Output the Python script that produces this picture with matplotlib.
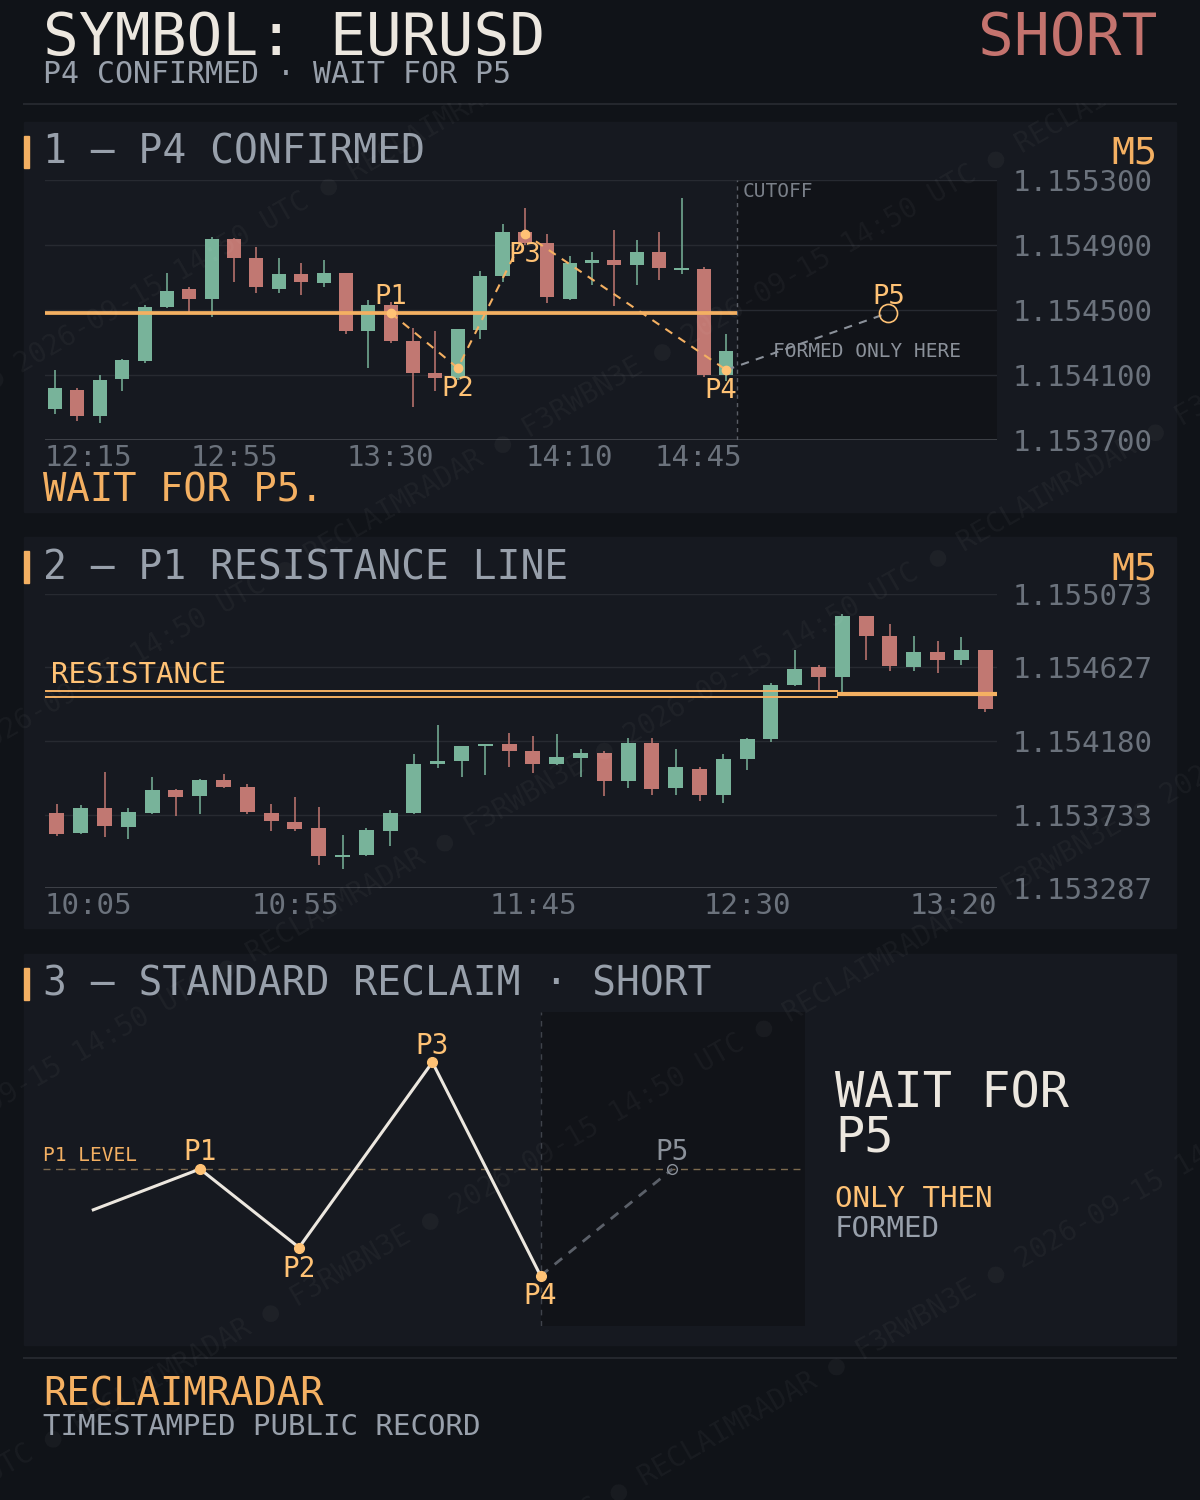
import matplotlib
matplotlib.use("Agg")
import matplotlib.pyplot as plt
from matplotlib.patches import Rectangle
from matplotlib import transforms
import numpy as np

plt.rcParams["font.family"] = ["DejaVu Sans Mono", "DejaVu Sans"]

W, H = 1200, 1500

# colours
BG = "#101318"
PANEL = "#161920"
FUTURE = "#111318"
GRID = "#272a31"
AXIS = "#45484f"
TXT = "#ece7df"
MUTED = "#98a0ab"
TICK = "#6b727c"
ORANGE = "#f4b062"
LABEL = "#ffc275"
GREEN = "#78b39a"
RED = "#c17872"
SHORT_RED = "#c4736e"
GHOST = "#8b919a"

# header
symbol = "EURUSD"
side = "SHORT"
status = "P4 CONFIRMED · WAIT FOR P5"
timeframe = "M5"

# panel 1 - M5 candles 12:15 .. 14:45
p1_open = [1.153893, 1.154008, 1.153850, 1.154077, 1.154188, 1.154520, 1.154629, 1.154570,
           1.154937, 1.154820, 1.154631, 1.154722, 1.154668, 1.154728, 1.154373, 1.154531,
           1.154309, 1.154112, 1.154083, 1.154379, 1.154711, 1.154980, 1.154912, 1.154570,
           1.154789, 1.154808, 1.154777, 1.154857, 1.154748, 1.154752, 1.154100]
p1_high = [1.154131, 1.154018, 1.154100, 1.154198, 1.154531, 1.154728, 1.154642, 1.154949,
           1.154940, 1.154888, 1.154820, 1.154789, 1.154808, 1.154730, 1.154562, 1.154549,
           1.154389, 1.154371, 1.154383, 1.154740, 1.155029, 1.155128, 1.154968, 1.154832,
           1.154857, 1.154992, 1.154931, 1.154980, 1.155189, 1.154766, 1.154352]
p1_low = [1.153858, 1.153819, 1.153806, 1.154003, 1.154176, 1.154514, 1.154483, 1.154459,
          1.154674, 1.154606, 1.154606, 1.154594, 1.154643, 1.154354, 1.154145, 1.154299,
          1.153905, 1.154003, 1.154069, 1.154323, 1.154674, 1.154900, 1.154545, 1.154562,
          1.154654, 1.154525, 1.154654, 1.154685, 1.154722, 1.154088, 1.154063]
p1_close = [1.154020, 1.153850, 1.154069, 1.154192, 1.154518, 1.154617, 1.154570, 1.154937,
            1.154822, 1.154643, 1.154722, 1.154674, 1.154728, 1.154373, 1.154531, 1.154311,
            1.154114, 1.154083, 1.154383, 1.154709, 1.154980, 1.154914, 1.154582, 1.154789,
            1.154808, 1.154777, 1.154857, 1.154758, 1.154758, 1.154100, 1.154248]
p1_yticks = [1.1537, 1.1541, 1.1545, 1.1549, 1.1553]
p1_time_labels = ["12:15", "12:55", "13:30", "14:10", "14:45"]
p1_time_index = [0, 8, 15, 23, 30]
p1_level = 1.154482
pattern_names = ["P1", "P2", "P3", "P4"]
pattern_index = [15, 18, 21, 30]
pattern_price = [1.154482, 1.154143, 1.154968, 1.154131]
p5_index = 37.24

# panel 2 - M5 candles 10:05 .. 13:20
p2_open = [1.153743, 1.153623, 1.153773, 1.153659, 1.153743, 1.153882, 1.153848, 1.153943,
           1.153901, 1.153743, 1.153688, 1.153651, 1.153477, 1.153489, 1.153635, 1.153744,
           1.154042, 1.154060, 1.154151, 1.154162, 1.154119, 1.154042, 1.154079, 1.154107,
           1.153939, 1.154168, 1.153896, 1.154010, 1.153854, 1.154072, 1.154194, 1.154522,
           1.154630, 1.154571, 1.154939, 1.154818, 1.154631, 1.154721, 1.154674, 1.154733]
p2_high = [1.153797, 1.153791, 1.153992, 1.153773, 1.153961, 1.153888, 1.153949, 1.153980,
           1.153919, 1.153797, 1.153840, 1.153779, 1.153609, 1.153651, 1.153761, 1.154101,
           1.154277, 1.154150, 1.154162, 1.154229, 1.154210, 1.154223, 1.154131, 1.154119,
           1.154198, 1.154198, 1.154131, 1.154022, 1.154101, 1.154198, 1.154532, 1.154733,
           1.154642, 1.154952, 1.154940, 1.154891, 1.154818, 1.154788, 1.154812, 1.154735]
p2_low = [1.153605, 1.153617, 1.153599, 1.153586, 1.153736, 1.153726, 1.153738, 1.153896,
          1.153738, 1.153635, 1.153635, 1.153429, 1.153404, 1.153483, 1.153544, 1.153738,
          1.154018, 1.153963, 1.153975, 1.154024, 1.153987, 1.154036, 1.153963, 1.153848,
          1.153896, 1.153854, 1.153854, 1.153817, 1.153805, 1.154006, 1.154176, 1.154516,
          1.154486, 1.154467, 1.154674, 1.154607, 1.154607, 1.154595, 1.154644, 1.154358]
p2_close = [1.153617, 1.153773, 1.153665, 1.153749, 1.153882, 1.153842, 1.153943, 1.153902,
            1.153750, 1.153696, 1.153647, 1.153483, 1.153487, 1.153639, 1.153743, 1.154040,
            1.154059, 1.154150, 1.154162, 1.154121, 1.154042, 1.154083, 1.154107, 1.153939,
            1.154168, 1.153890, 1.154022, 1.153854, 1.154071, 1.154192, 1.154520, 1.154617,
            1.154571, 1.154939, 1.154820, 1.154637, 1.154721, 1.154674, 1.154733, 1.154376]
p2_yticks = [1.153287, 1.1537335, 1.15418, 1.1546265, 1.155073]
p2_ytick_labels = ["1.153287", "1.153733", "1.154180", "1.154627", "1.155073"]
p2_time_labels = ["10:05", "10:55", "11:45", "12:30", "13:20"]
p2_time_index = [0, 10, 20, 29, 39]
resistance = 1.154466
resistance_touch = 32.78

# panel 3 - schematic of the standard reclaim
sketch_x = [0.066, 0.206, 0.336, 0.511, 0.653]
sketch_y = [0.37, 0.50, 0.25, 0.84, 0.16]
sketch_names = ["", "P1", "P2", "P3", "P4"]
sketch_p5 = (0.826, 0.50)
sketch_level = 0.50

wm_cycle = "RECLAIMRADAR ● F3RWBN3E ● 2026-09-15 14:50 UTC ● "


def px_box(x0, y0, x1, y1):
    return [x0 / W, 1 - y1 / H, (x1 - x0) / W, (y1 - y0) / H]


def chart_axes(box, xlim, ylim):
    ax = fig.add_axes(px_box(*box), zorder=2)
    ax.set_facecolor("none")
    ax.set_xlim(*xlim)
    ax.set_ylim(*ylim)
    for s in ax.spines.values():
        s.set_visible(False)
    return ax


def price_grid(ax, ticks, labels):
    for t in ticks[1:]:
        ax.axhline(t, color=GRID, lw=1, zorder=0.5)
    ax.axhline(ticks[0], color=AXIS, lw=1.2, zorder=0.5)
    ax.set_xticks([])
    ax.yaxis.tick_right()
    ax.set_yticks(ticks)
    ax.set_yticklabels(labels)
    ax.tick_params(axis="y", length=0, pad=11, labelsize=21, labelcolor=TICK)


def time_labels(ax, idx, labels, right_edge):
    tr = transforms.offset_copy(ax.get_xaxis_transform(), fig=fig, y=-26, units="dots")
    for k, (i, lab) in enumerate(zip(idx, labels)):
        x, ha = i, "center"
        if k == 0:
            x, ha = ax.get_xlim()[0], "left"
        elif k == len(idx) - 1:
            x, ha = right_edge, "right"
        ax.text(x, 0, lab, transform=tr, ha=ha, va="baseline", color=TICK, fontsize=21)


def draw_candles(ax, o, h, l, c, width=0.63):
    o, h, l, c = map(np.asarray, (o, h, l, c))
    x = np.arange(len(o))
    colors = np.where(c >= o, GREEN, RED)
    ax.vlines(x, l, h, colors=colors, lw=1.1, zorder=3)
    height = np.maximum(np.abs(c - o), 1.1e-5)
    ax.bar(x, height, width, np.minimum(o, c), color=colors, lw=0, zorder=4)


fig = plt.figure(figsize=(W / 100, H / 100), dpi=100, facecolor=BG)
bg = fig.add_axes([0, 0, 1, 1], zorder=0)
bg.set_xlim(0, W)
bg.set_ylim(H, 0)
bg.axis("off")

# header sits above the watermark layer so it stays clean
hdr = fig.add_axes(px_box(0, 0, W, 103), zorder=30)
hdr.set_facecolor(BG)
hdr.set_xlim(0, W)
hdr.set_ylim(103, 0)
hdr.set_xticks([])
hdr.set_yticks([])
for s in hdr.spines.values():
    s.set_visible(False)
hdr.text(43, 55, f"SYMBOL: {symbol}", color=TXT, fontsize=42.8, va="baseline")
hdr.text(1157, 55, side, color=SHORT_RED, fontsize=42.8, va="baseline", ha="right")
hdr.text(43, 83, status, color=MUTED, fontsize=21.5, va="baseline")
bg.plot([24, 1176], [104, 104], color="#24272d", lw=1.5)

# panel frames and titles
panels = [
    (122, 512, "1 — P4 CONFIRMED", True),
    (537, 928, "2 — P1 RESISTANCE LINE", True),
    (954, 1345, "3 — STANDARD RECLAIM · SHORT", False),
]
for top, bottom, title, show_tf in panels:
    bg.add_patch(Rectangle((24, top), 1152, bottom - top, color=PANEL, zorder=0))
    bg.add_patch(Rectangle((24, top + 14), 5, 32, color=ORANGE, zorder=1))
    bg.text(43, top + 42, title, color=MUTED, fontsize=28.5, va="baseline")
    if show_tf:
        bg.text(1157, top + 42, timeframe, color=ORANGE, fontsize=27.5, va="baseline", ha="right")

# ---- panel 1
ax1 = chart_axes((45, 180, 997, 440), (-0.45, 42.1), (p1_yticks[0], p1_yticks[-1]))
cutoff = len(p1_open) - 0.5
ax1.axvspan(cutoff, ax1.get_xlim()[1], color=FUTURE, lw=0, zorder=0)
price_grid(ax1, p1_yticks, [f"{t:.6f}" for t in p1_yticks])
ax1.axvline(cutoff, color="#5a5e66", lw=1, ls=(0, (3, 3)), zorder=1)
draw_candles(ax1, p1_open, p1_high, p1_low, p1_close)
ax1.plot([ax1.get_xlim()[0], cutoff], [p1_level, p1_level], color=ORANGE, lw=2.7,
         solid_capstyle="butt", zorder=5)
ax1.plot(pattern_index, pattern_price, color=ORANGE, lw=1.5, ls=(0, (4, 3.5)), zorder=6)
ax1.plot(pattern_index, pattern_price, "o", ms=6, color=LABEL, zorder=7)
ax1.plot([pattern_index[-1], p5_index], [pattern_price[-1], p1_level], color=GHOST, lw=1.5,
         ls=(0, (4, 3.5)), zorder=6)
ax1.plot(p5_index, p1_level, "o", ms=13, mfc="none", mec=LABEL, mew=1.2, zorder=7)
offsets = {"P1": (0, 6.5), "P2": (0, -20.5), "P3": (0, -20), "P4": (-4, -20)}
for name, xi, yi in zip(pattern_names, pattern_index, pattern_price):
    ax1.annotate(name, (xi, yi), xytext=offsets[name], textcoords="offset points",
                 ha="center", va="baseline", color=LABEL, fontsize=19.5, zorder=8)
ax1.annotate("P5", (p5_index, p1_level), xytext=(0, 6.5), textcoords="offset points",
             ha="center", va="baseline", color=LABEL, fontsize=19.5, zorder=8)
ax1.annotate("CUTOFF", (cutoff, p1_yticks[-1]), xytext=(4, -12.2), textcoords="offset points",
             va="baseline", color="#7a8089", fontsize=14)
ax1.annotate("FORMED ONLY HERE", ((cutoff + ax1.get_xlim()[1]) / 2, p1_level), xytext=(0, -31.7),
             textcoords="offset points", ha="center", va="baseline", color=GHOST, fontsize=14)
time_labels(ax1, p1_time_index, p1_time_labels, cutoff + 0.2)
bg.text(43, 502, "WAIT FOR P5.", color=ORANGE, fontsize=28, va="baseline")

# ---- panel 2
ax2 = chart_axes((45, 594, 997, 888), (-0.5, 39.5), (p2_yticks[0], p2_yticks[-1]))
price_grid(ax2, p2_yticks, p2_ytick_labels)
draw_candles(ax2, p2_open, p2_high, p2_low, p2_close)
x0, x1 = ax2.get_xlim()
for dy in (-2.8, 2.8):
    tr = transforms.offset_copy(ax2.transData, fig=fig, y=dy, units="dots")
    ax2.plot([x0 + 0.03, resistance_touch], [resistance, resistance], transform=tr,
             color=ORANGE, lw=1.4, zorder=5)
ax2.plot([resistance_touch, x1], [resistance, resistance], color=ORANGE, lw=3,
         solid_capstyle="butt", zorder=5)
ax2.annotate("RESISTANCE", (x0, resistance), xytext=(4.3, 8), textcoords="offset points",
             va="baseline", color=LABEL, fontsize=21, zorder=6)
time_labels(ax2, p2_time_index, p2_time_labels, x1)

# ---- panel 3
ax3 = chart_axes((43, 1012, 805, 1326), (0, 1), (0, 1))
ax3.set_xticks([])
ax3.set_yticks([])
ax3.axvspan(sketch_x[-1], 1, color=FUTURE, lw=0, zorder=0)
ax3.axhline(sketch_level, color="#7d6a4e", lw=1, ls=(0, (5, 4)), zorder=1)
ax3.axvline(sketch_x[-1], color="#3f434b", lw=1, ls=(0, (4, 4)), zorder=1)
ax3.plot(sketch_x, sketch_y, color=TXT, lw=2.2, zorder=4)
ax3.plot(sketch_x[1:], sketch_y[1:], "o", ms=7, color=LABEL, zorder=5)
ax3.plot([sketch_x[-1], sketch_p5[0]], [sketch_y[-1], sketch_p5[1]], color="#5b6069", lw=2,
         ls=(0, (3.5, 3)), zorder=3)
ax3.plot(*sketch_p5, "o", ms=7, mfc="none", mec=GHOST, mew=1, zorder=5)
sketch_off = {"P1": 6.2, "P2": -21, "P3": 6.2, "P4": -20}
for name, xi, yi in zip(sketch_names[1:], sketch_x[1:], sketch_y[1:]):
    ax3.annotate(name, (xi, yi), xytext=(0, sketch_off[name]), textcoords="offset points",
                 ha="center", va="baseline", color=LABEL, fontsize=20, zorder=6)
ax3.annotate("P5", sketch_p5, xytext=(0, 6.2), textcoords="offset points",
             ha="center", va="baseline", color=GHOST, fontsize=20, zorder=6)
ax3.annotate("P1 LEVEL", (0, sketch_level), xytext=(0, 6), textcoords="offset points",
             va="baseline", color=ORANGE, fontsize=14, zorder=6)

bg.text(835, 1107, "WAIT FOR", color=TXT, fontsize=35, va="baseline")
bg.text(835, 1151, "P5", color=TXT, fontsize=35, va="baseline")
bg.text(835, 1207, "ONLY THEN", color=LABEL, fontsize=21, va="baseline")
bg.text(835, 1237, "FORMED", color=MUTED, fontsize=21, va="baseline")

# footer
bg.plot([24, 1176], [1358, 1358], color="#24272d", lw=1.5)
bg.text(43, 1406, "RECLAIMRADAR", color=ORANGE, fontsize=28, va="baseline")
bg.text(43, 1435, "TIMESTAMPED PUBLIC RECORD", color=MUTED, fontsize=21, va="baseline")

# diagonal watermark over the panels, very faint
wm = fig.add_axes([0, 0, 1, 1], zorder=20)
wm.set_xlim(0, W)
wm.set_ylim(H, 0)
wm.axis("off")
wm_rows = [377, 735, 1100, 1470, 1850]
wm_shift = [11, 14, 18, 30, 40]
for c, s in zip(wm_rows, wm_shift):
    line = (wm_cycle * 6)[s:s + 160]
    wm.text(-200, c + 115, line, rotation=30, rotation_mode="anchor", ha="left",
            va="center", color="white", alpha=0.04, fontsize=20)

fig.savefig("out.png", dpi=100, facecolor=BG)
